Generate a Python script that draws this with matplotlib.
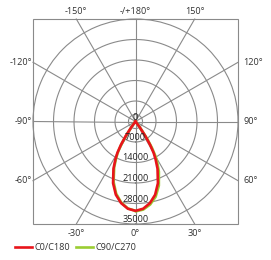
import numpy as np
import matplotlib
matplotlib.use('Agg')
import matplotlib.pyplot as plt
from matplotlib.patches import Rectangle

# gamma angle from nadir (deg) and luminous intensity (cd)
gamma = [0, 5, 10, 15, 20, 25, 28, 30, 32, 34, 36, 38, 40, 50, 60, 70, 80, 90]
c0 = [30500, 29900, 28300, 25900, 22400, 17800, 14600, 12400, 9400, 6000, 2600, 400, 0, 0, 0, 0, 0, 0]
c180 = [30500, 29900, 28300, 25900, 22400, 17800, 14600, 12400, 9400, 6000, 2600, 400, 0, 0, 0, 0, 0, 0]
c90 = [30700, 30200, 28800, 26600, 23300, 18900, 15800, 13600, 10600, 7200, 3500, 900, 0, 0, 0, 0, 0, 0]
c270 = [30500, 29800, 28100, 25500, 21900, 17200, 14000, 11800, 8800, 5400, 2200, 200, 0, 0, 0, 0, 0, 0]

ring_values = [2400, 7000, 14000, 21000, 28000, 35000]
ring_labels = ['0', '7000', '14000', '21000', '28000', '35000']
ring_label_pos = [0, 7000, 14000, 21000, 28000, 35000]
angle_ticks = [-150, 180, 150, -120, 120, -90, 90, -60, 60, -30, 0, 30]
angle_labels = ['-150°', '-/+180°', '150°', '-120°', '120°', '-90°', '90°',
                '-60°', '60°', '-30°', '0°', '30°']

GRID = '#8a8a8a'
TXT = '#333333'
FONT = 'Open Sans'
FS = 6.6

W, H = 271, 260
fig = plt.figure(figsize=(W / 100, H / 100), dpi=100)
ax = fig.add_axes([33 / W, 36 / H, 205 / W, 205 / H], projection='polar')
ax.set_theta_zero_location('S')
ax.set_theta_direction(1)
ax.set_rlim(0, 35000)
ax.set_xticks([])
ax.set_yticks([])
ax.grid(False)
ax.spines['polar'].set_color(GRID)
ax.spines['polar'].set_linewidth(0.8)
ax.patch.set_alpha(0)

# rings
th = np.linspace(0, 2 * np.pi, 361)
for r in ring_values[:-1]:
    ax.plot(th, np.full_like(th, r), color=GRID, lw=0.8, zorder=1)

# square frame and spokes (axes coords)
ax.add_patch(Rectangle((0, 0), 1, 1, transform=ax.transAxes, fill=False,
                       edgecolor=GRID, lw=0.8, clip_on=False, zorder=1))
for a in range(0, 360, 30):
    phi = np.deg2rad(a)
    dx, dy = np.sin(phi), -np.cos(phi)
    t = 0.5 / max(abs(dx), abs(dy))
    ax.plot([0.5, 0.5 + t * dx], [0.5, 0.5 + t * dy], transform=ax.transAxes,
            color=GRID, lw=0.8, clip_on=False, zorder=1)

# angle labels outside the frame
for a, lab in zip(angle_ticks, angle_labels):
    phi = np.deg2rad(a)
    dx, dy = np.sin(phi), -np.cos(phi)
    if abs(dy) >= abs(dx) - 1e-9:
        t = 0.5 / abs(dy)
        x = 0.5 + t * dx
        if dy > 0:
            ax.text(x, 1.015, lab, transform=ax.transAxes, ha='center', va='bottom',
                    fontsize=FS, color=TXT, family=FONT)
        else:
            ax.text(x, -0.025, lab, transform=ax.transAxes, ha='center', va='top',
                    fontsize=FS, color=TXT, family=FONT)
    else:
        t = 0.5 / abs(dx)
        y = 0.5 + t * dy
        if dx > 0:
            ax.text(1.025, y, lab, transform=ax.transAxes, ha='left', va='center',
                    fontsize=FS, color=TXT, family=FONT)
        else:
            ax.text(-0.005, y, lab, transform=ax.transAxes, ha='right', va='center',
                    fontsize=FS, color=TXT, family=FONT)

# curves: right half C0 / C90, left half C180 / C270
g = np.deg2rad(np.array(gamma, dtype=float))
theta = np.concatenate([-g[::-1], g])
red_r = np.concatenate([np.array(c180)[::-1], c0])
green_r = np.concatenate([np.array(c270)[::-1], c90])
l2, = ax.plot(theta, green_r, color='#9acd32', lw=1.9, zorder=3, label='C90/C270')
l1, = ax.plot(theta, red_r, color='#e8141b', lw=1.9, zorder=4, label='C0/C180')

# ring labels
for r, lab in zip(ring_label_pos, ring_labels):
    ax.text(0, r, lab, ha='center', va='bottom', fontsize=FS, color='#222222',
            family=FONT, zorder=5)

fig.legend(handles=[l1, l2], labels=['C0/C180', 'C90/C270'], loc='center left',
           bbox_to_anchor=(15 / W, 1 - 248 / H), ncol=2, frameon=False,
           prop={'family': FONT, 'size': FS}, handlelength=1.9, handletextpad=0.25,
           columnspacing=0.6, borderpad=0, borderaxespad=0, labelcolor=TXT)

fig.savefig('out.png', dpi=100)
